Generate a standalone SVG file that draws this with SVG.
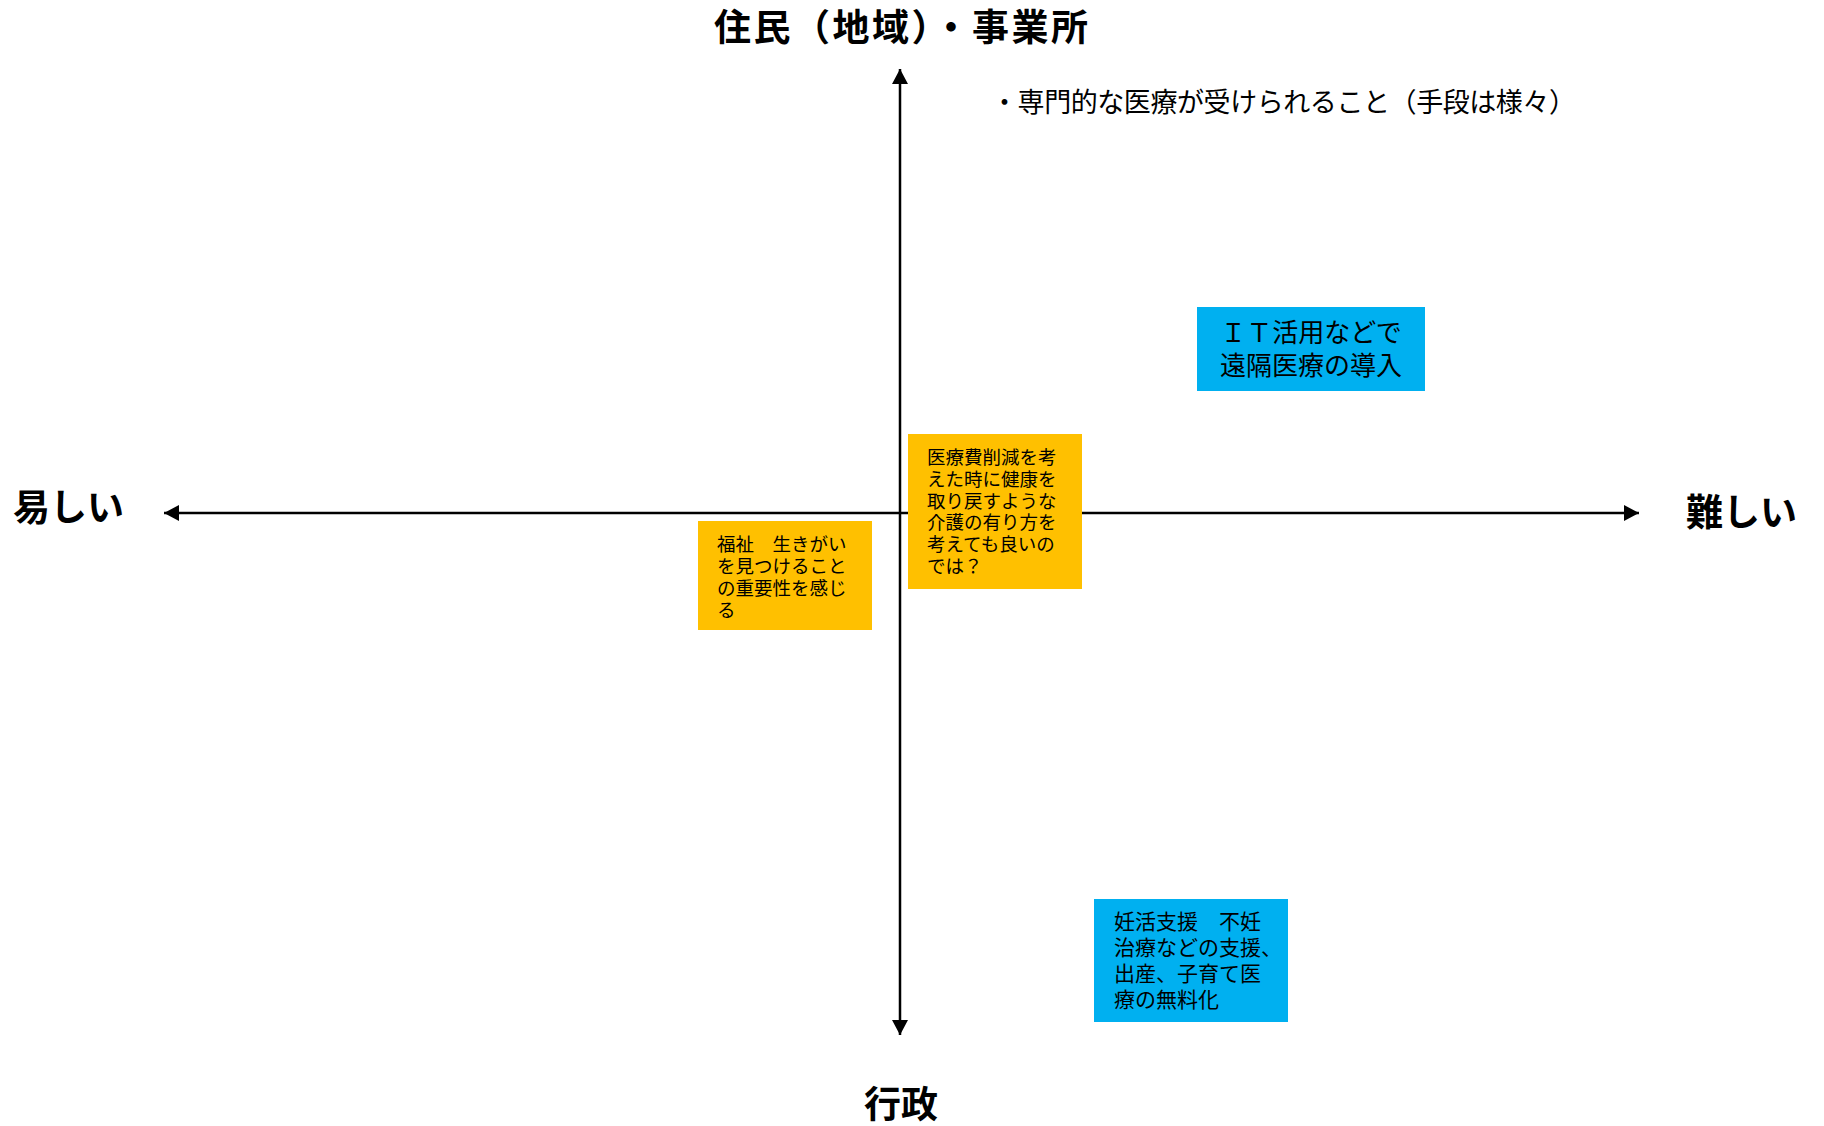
<svg xmlns="http://www.w3.org/2000/svg" width="1824" height="1126" viewBox="0 0 1824 1126">
  <style>
    text { font-family: "Noto Sans CJK JP", "Noto Sans", sans-serif; fill: #000; }
    .axis-label { font-size: 37px; font-weight: bold; }
    .note { font-size: 27px; }
    .t26 { font-size: 26px; }
    .t21 { font-size: 21px; }
    .t18 { font-size: 18.5px; }
    .axis { stroke: #000; stroke-width: 2.5; fill: none; marker-start: url(#arrow); marker-end: url(#arrow); }
    .orange { fill: #FFC000; }
    .blue { fill: #00B0F0; }
  </style>
  <defs>
    <marker id="arrow" viewBox="0 0 15 16" refX="15" refY="8" markerWidth="15" markerHeight="16" markerUnits="userSpaceOnUse" orient="auto-start-reverse">
      <path d="M0,0 L15,8 L0,16 z" fill="#000"/>
    </marker>
  </defs>
  <rect width="1824" height="1126" fill="#fff"/>

  <g id="connectors">
    <line class="axis" x1="900" y1="69" x2="900" y2="1035"/>
    <line class="axis" x1="164" y1="513" x2="1639" y2="513"/>
  </g>

  <g id="label-top"><text class="axis-label" x="714" y="41" textLength="374" lengthAdjust="spacing">住民（地域）・事業所</text></g>
  <g id="label-bottom"><text class="axis-label" x="864" y="1118">行政</text></g>
  <g id="label-left"><text class="axis-label" x="13" y="521">易しい</text></g>
  <g id="label-right"><text class="axis-label" x="1686" y="526">難しい</text></g>
  <g id="note-top"><text class="note" x="991" y="112" textLength="585" lengthAdjust="spacing">・専門的な医療が受けられること（手段は様々）</text></g>

  <g id="node-it">
    <rect class="blue" x="1197" y="307" width="228" height="84"/>
    <text class="t26" text-anchor="middle"><tspan x="1311" y="342">ＩＴ活用などで</tspan><tspan x="1311" y="375">遠隔医療の導入</tspan></text>
  </g>

  <g id="node-iryouhi">
    <rect class="orange" x="908" y="434" width="174" height="155"/>
    <text class="t18"><tspan x="927" y="464">医療費削減を考</tspan><tspan x="927" y="486">えた時に健康を</tspan><tspan x="927" y="508">取り戻すような</tspan><tspan x="927" y="529">介護の有り方を</tspan><tspan x="927" y="551">考えても良いの</tspan><tspan x="927" y="573">では？</tspan></text>
  </g>

  <g id="node-fukushi">
    <rect class="orange" x="698" y="521" width="174" height="109"/>
    <text class="t18"><tspan x="717" y="551">福祉　生きがい</tspan><tspan x="717" y="573">を見つけること</tspan><tspan x="717" y="595">の重要性を感じ</tspan><tspan x="717" y="617">る</tspan></text>
  </g>

  <g id="node-ninkatsu">
    <rect class="blue" x="1094" y="899" width="194" height="123"/>
    <text class="t21"><tspan x="1114" y="929">妊活支援　不妊</tspan><tspan x="1114" y="955">治療などの支援、</tspan><tspan x="1114" y="981">出産、子育て医</tspan><tspan x="1114" y="1007">療の無料化</tspan></text>
  </g>
</svg>
